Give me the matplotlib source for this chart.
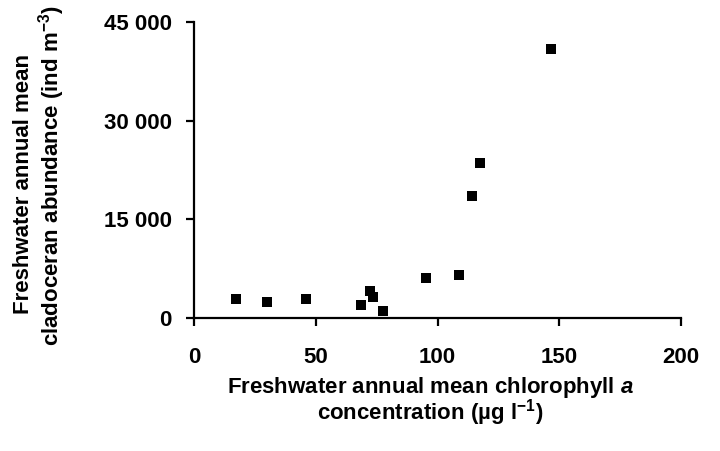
import matplotlib
matplotlib.use("Agg")
import matplotlib.pyplot as plt

# Data
chl = [17.4, 30.1, 45.9, 68.7, 72.4, 73.5, 77.5, 95.3, 108.7, 114.2, 117.6, 146.6]
clad = [2950, 2500, 2950, 2000, 4150, 3250, 1000, 6100, 6500, 18600, 23550, 40900]

xticks = [0, 50, 100, 150, 200]
yticks = [0, 15000, 30000, 45000]
yticklabels = ["0", "15 000", "30 000", "45 000"]

plt.rcParams['font.family'] = ['Liberation Sans', 'DejaVu Sans']
plt.rcParams['font.weight'] = 'bold'
plt.rcParams['mathtext.fontset'] = 'custom'
plt.rcParams['mathtext.rm'] = 'Liberation Sans:bold'
plt.rcParams['mathtext.bf'] = 'Liberation Sans:bold'
plt.rcParams['mathtext.it'] = 'Liberation Sans:bold:italic'

W, H = 720, 451
fig = plt.figure(figsize=(7.2, 4.51), dpi=100)
ax = fig.add_axes([194 / W, 1 - 318 / H, (681 - 194) / W, (318 - 22) / H])

ax.scatter(chl, clad, marker='s', s=48, color='black', linewidths=0, zorder=3, clip_on=False)

ax.set_xlim(0, 200)
ax.set_ylim(0, 45000)
ax.set_xticks(xticks)
ax.set_xticklabels([str(t) for t in xticks])
ax.set_yticks(yticks)
ax.set_yticklabels(yticklabels)

for s in ['top', 'right']:
    ax.spines[s].set_visible(False)
for s in ['left', 'bottom']:
    ax.spines[s].set_linewidth(1.6)

ax.tick_params(axis='both', direction='out', length=6, width=1.6, labelsize=16)
ax.tick_params(axis='x', pad=15)
ax.tick_params(axis='y', pad=10)
for lab in ax.get_xticklabels() + ax.get_yticklabels():
    lab.set_fontweight('bold')

fig.text(430 / W, 1 - 387 / H, "Freshwater annual mean chlorophyll $\\mathit{a}$",
         ha='center', va='center', fontsize=16, fontweight='bold')
fig.text(430 / W, 1 - 413 / H, "concentration (µg l$^{-1}$)",
         ha='center', va='center', fontsize=16, fontweight='bold')
fig.text(24 / W, 1 - 184 / H, "Freshwater annual mean",
         ha='center', va='center', rotation=90, fontsize=16, fontweight='bold')
fig.text(52 / W, 1 - 176 / H, "cladoceran abundance (ind m$^{-3}$)",
         ha='center', va='center', rotation=90, fontsize=16, fontweight='bold')

fig.savefig("out.png", dpi=100)
